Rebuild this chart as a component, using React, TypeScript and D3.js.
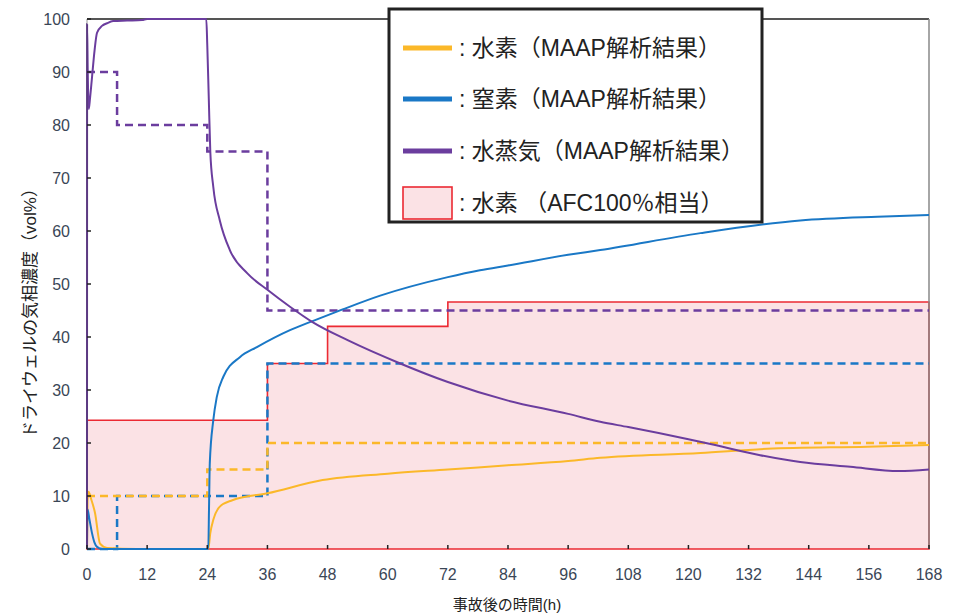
import React from "react";
import * as d3 from "d3";

// ---- data ----
const xTicks = [0, 12, 24, 36, 48, 60, 72, 84, 96, 108, 120, 132, 144, 156, 168];
const yTicks = [0, 10, 20, 30, 40, 50, 60, 70, 80, 90, 100];

// AFC100% hydrogen equivalent (step)
const afcT = [0, 36, 48, 72, 168];
const afcV = [24.3, 35, 42, 46.6, 46.6];

// reference steps (dashed)
const steamRefT = [0, 6, 24, 36, 168];
const steamRefV = [90, 80, 75, 45, 45];
const n2RefT = [0, 6, 36, 168];
const n2RefV = [0, 10, 35, 35];
const h2RefT = [0, 24, 36, 168];
const h2RefV = [10, 15, 20, 20];

// MAAP results (solid)
const steamT = [0, 0.02, 0.15, 0.35, 0.6, 1, 1.5, 2, 3, 4, 5.2, 8, 11, 12, 23.8, 24.0, 24.3, 24.6, 25.2, 26.5, 28.5, 32, 36, 40.5, 45, 52, 62.5, 72, 84, 96, 102.4, 108, 120, 124.4, 134.3, 142.3, 152.3, 162, 168];
const steamV = [0, 99, 90, 83, 85, 89, 94, 97.4, 98.7, 99.2, 99.6, 99.7, 99.8, 100, 100, 95, 85, 75, 68.3, 62, 56.4, 52, 48.9, 45.7, 42.8, 39.4, 35, 31.5, 28, 25.5, 24, 23, 20.7, 19.8, 17.7, 16.4, 15.5, 14.7, 15];

const n2T = [0, 0.1, 0.5, 1, 1.5, 2, 3, 10, 24, 24.2, 24.35, 24.5, 25.2, 25.9, 27.2, 30.5, 33.9, 40.5, 45, 51, 58.5, 72, 78.4, 84, 96, 102.4, 122.4, 142.3, 157.7, 168];
const n2V = [0, 7.5, 5.5, 3, 1.2, 0.4, 0, 0, 0, 0, 8, 16.2, 24.3, 28.7, 32.5, 36.2, 38.1, 41.3, 43, 45.2, 47.8, 51.3, 52.6, 53.5, 55.5, 56.4, 59.6, 62, 62.7, 63];

const h2T = [0, 0.1, 0.3, 0.8, 1.6, 2.6, 4, 10, 24, 24.2, 24.6, 25.2, 26.5, 29, 36, 47, 60, 72, 84, 96, 102.4, 122.4, 135.7, 155.7, 168];
const h2V = [0, 9, 10.8, 9.5, 6.8, 1, 0.2, 0, 0, 0, 3, 5.5, 8, 9.2, 10.5, 13, 14.2, 15, 15.8, 16.6, 17.2, 18.1, 18.9, 19.3, 19.6];

const legendLabels = [
  ": 水素（MAAP解析結果）",
  ": 窒素（MAAP解析結果）",
  ": 水蒸気（MAAP解析結果）",
  ": 水素 （AFC100％相当）",
];

const C_H2 = "#fbb829";
const C_N2 = "#1a78c6";
const C_ST = "#6b3d9e";
const C_RED = "#ec2a33";
const C_FILL = "#fbe2e5";

const zip = (t: number[], v: number[]) => t.map((d, i) => [d, v[i]] as [number, number]);

export default function App() {
  const W = 961, H = 615;
  const x = d3.scaleLinear().domain([0, 168]).range([87, 929]);
  const y = d3.scaleLinear().domain([0, 100]).range([549, 19]);

  const line = d3.line<[number, number]>().x(d => x(d[0])).y(d => y(d[1])).curve(d3.curveMonotoneX);
  const stepLine = d3.line<[number, number]>().x(d => x(d[0])).y(d => y(d[1])).curve(d3.curveStepAfter);
  const stepArea = d3.area<[number, number]>().x(d => x(d[0])).y0(y(0)).y1(d => y(d[1])).curve(d3.curveStepAfter);

  const afc = zip(afcT, afcV);
  const afcOutline = "M" + x(0) + "," + y(0) + "L" + stepLine(afc)!.slice(1) + "L" + x(168) + "," + y(0) + "Z";

  const tickFont = "'Liberation Sans', 'DejaVu Sans', sans-serif";
  const jpFont = "'Liberation Sans', 'Noto Sans CJK JP', sans-serif";
  const legendY = [48, 99, 151, 203];
  const legendColors = [C_H2, C_N2, C_ST];

  return (
    <svg width={W} height={H} style={{ position: "absolute", left: 0, top: 0, background: "#fff" }}>
      {/* AFC fill */}
      <path d={stepArea(afc)!} fill={C_FILL} />
      <path d={afcOutline} fill="none" stroke={C_RED} strokeWidth={1.6} />

      {/* frame top and right */}
      <line x1={x(0)} x2={x(168)} y1={y(100)} y2={y(100)} stroke="#555" strokeWidth={2} />
      <line x1={x(168)} x2={x(168)} y1={y(100)} y2={y(0)} stroke="#888" strokeWidth={1.5} />

      {/* dashed reference steps */}
      <path d={stepLine(zip(steamRefT, steamRefV))!} fill="none" stroke={C_ST} strokeWidth={2.5} strokeDasharray="8,5" />
      <path d={stepLine(zip(n2RefT, n2RefV))!} fill="none" stroke={C_N2} strokeWidth={2.5} strokeDasharray="8,5" />
      <path d={stepLine(zip(h2RefT, h2RefV))!} fill="none" stroke={C_H2} strokeWidth={2.5} strokeDasharray="8,5" />

      {/* solid MAAP curves */}
      <path d={line(zip(h2T, h2V))!} fill="none" stroke={C_H2} strokeWidth={2} />
      <path d={line(zip(n2T, n2V))!} fill="none" stroke={C_N2} strokeWidth={2} />
      <path d={line(zip(steamT, steamV))!} fill="none" stroke={C_ST} strokeWidth={2} />

      {/* axes */}
      <line x1={x(0)} x2={x(0)} y1={y(0)} y2={y(100)} stroke="#333" strokeWidth={1} opacity={0.5} />
      {yTicks.map(t => (
        <g key={"y" + t}>
          <line x1={x(0)} x2={x(0) + 4} y1={y(t)} y2={y(t)} stroke="#222" strokeWidth={1.5} />
          <text x={70} y={y(t) + 6} textAnchor="end" fontSize={16} fontFamily={tickFont} fill="#3a4656">{t}</text>
        </g>
      ))}
      {xTicks.map(t => (
        <g key={"x" + t}>
          <line x1={x(t)} x2={x(t)} y1={y(0)} y2={y(0) - 4} stroke="#222" strokeWidth={1.5} />
          <text x={x(t)} y={580} textAnchor="middle" fontSize={16} fontFamily={tickFont} fill="#3a4656">{t}</text>
        </g>
      ))}

      {/* axis titles */}
      <text x={507} y={610} textAnchor="middle" fontSize={15} fontFamily={jpFont} fill="#222">事故後の時間(h)</text>
      <text transform={`translate(36,309) rotate(-90)`} textAnchor="middle" fontSize={17} fontFamily={jpFont} fill="#222">ドライウェルの気相濃度（vol%）</text>

      {/* legend */}
      <rect x={389} y={9} width={373} height={213} fill="#fff" stroke="#222" strokeWidth={3} />
      {legendColors.map((c, i) => (
        <line key={"ll" + i} x1={403} x2={452} y1={legendY[i]} y2={legendY[i]} stroke={c} strokeWidth={5} />
      ))}
      <rect x={403} y={187} width={49} height={32} fill={C_FILL} stroke={C_RED} strokeWidth={1.6} />
      {legendLabels.map((s, i) => (
        <text key={"lt" + i} x={459} y={legendY[i] + 8} fontSize={23} fontFamily={jpFont} fill="#222">{s}</text>
      ))}
    </svg>
  );
}
